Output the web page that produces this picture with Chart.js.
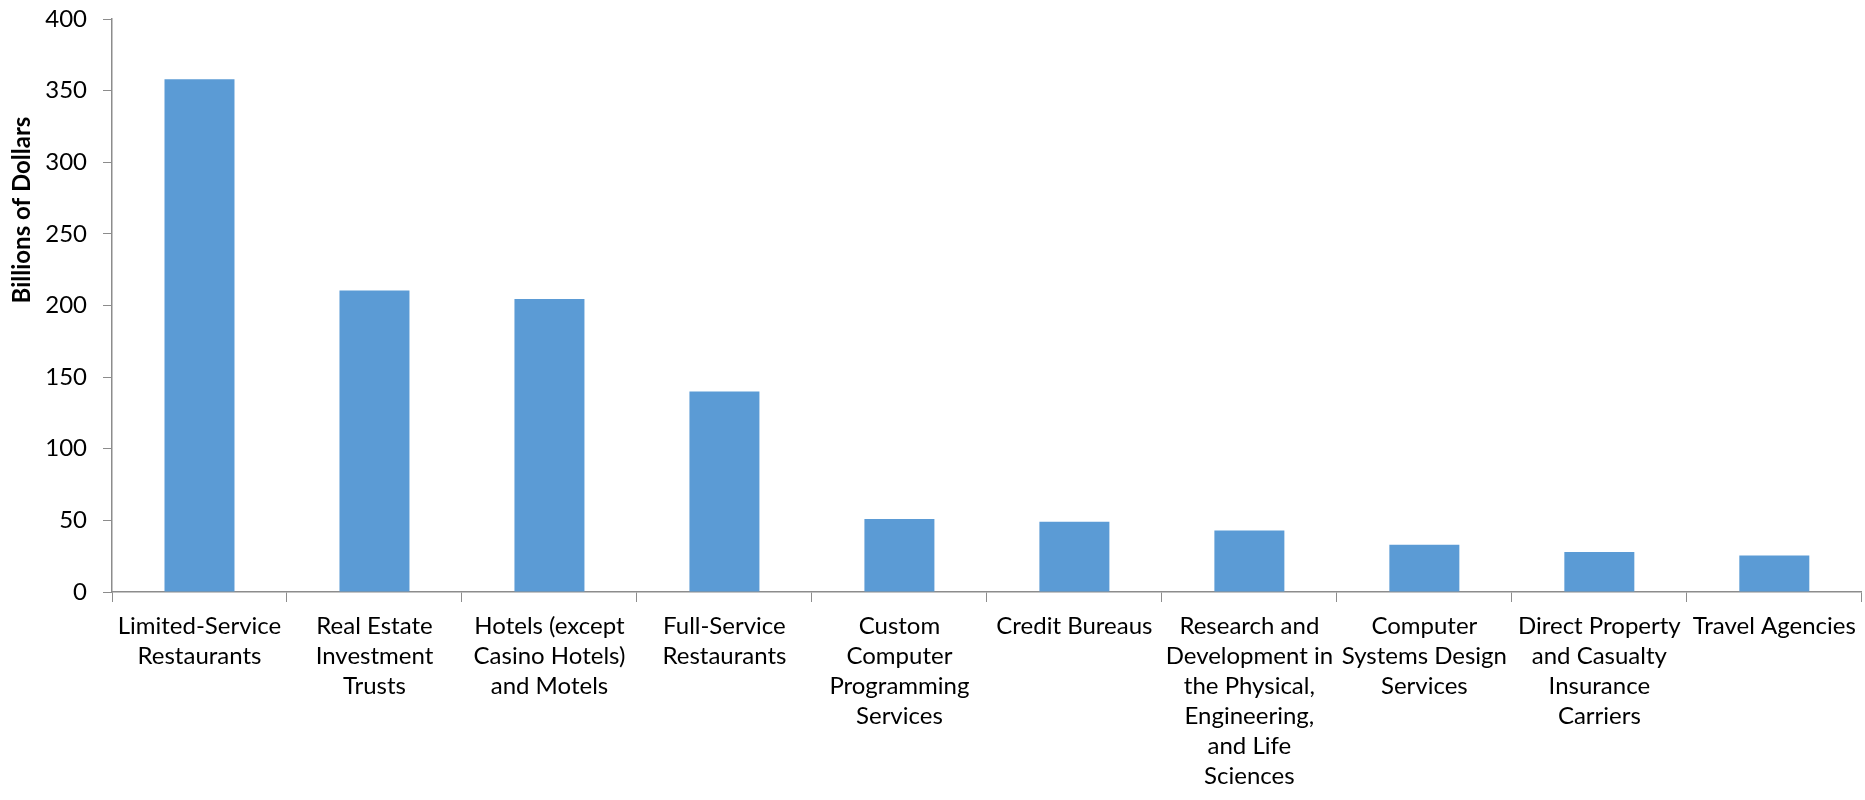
<!DOCTYPE html>
<html>
<head>
<meta charset="utf-8">
<script src="https://cdn.jsdelivr.net/npm/chart.js@4"></script>
<style>
  html, body { margin: 0; padding: 0; background: #fff; }
  #wrap { width: 1865px; height: 800px; }
</style>
</head>
<body>
<div id="wrap"><canvas id="industryChart"></canvas></div>
<script>
// Industry names, broken into lines the way they are printed under the axis
const industries = [
    ['Limited-Service', 'Restaurants'],
    ['Real Estate', 'Investment', 'Trusts'],
    ['Hotels (except', 'Casino Hotels)', 'and Motels'],
    ['Full-Service', 'Restaurants'],
    ['Custom', 'Computer', 'Programming', 'Services'],
    ['Credit Bureaus'],
    ['Research and', 'Development in', 'the Physical,', 'Engineering,', 'and Life', 'Sciences'],
    ['Computer', 'Systems Design', 'Services'],
    ['Direct Property', 'and Casualty', 'Insurance', 'Carriers'],
    ['Travel Agencies']
];

// Billions of dollars per industry
const billions = [358, 210.5, 204.5, 140, 51, 49, 43, 33, 28, 25.5];

const yMin = 0;
const yMax = 400;
const yStep = 50;

const axisGray = '#8c8c8c';
const fontFamily = 'Lato, "Open Sans", sans-serif';

// Rotated y-axis caption, placed a bit above the middle of the plot
const yCaption = {
    id: 'yCaption',
    afterDraw(chart) {
        const ctx = chart.ctx;
        ctx.save();
        ctx.translate(22, chart.chartArea.top + 191);
        ctx.rotate(-Math.PI / 2);
        ctx.font = 'bold 24px ' + fontFamily;
        ctx.fillStyle = '#000';
        ctx.textAlign = 'center';
        ctx.textBaseline = 'middle';
        ctx.fillText('Billions of Dollars', 0, 0);
        ctx.restore();
    }
};

const ctx = document.getElementById('industryChart').getContext('2d');
new Chart(ctx, {
    type: 'bar',
    data: {
        labels: industries,
        datasets: [{
            label: 'Billions of Dollars',
            data: billions,
            backgroundColor: '#5b9bd5',
            borderWidth: 0,
            categoryPercentage: 1,
            barPercentage: 0.4
        }]
    },
    options: {
        responsive: true,
        maintainAspectRatio: false,
        animation: false,
        layout: {
            padding: { top: 19, right: 2, bottom: 0, left: 0 }
        },
        plugins: {
            legend: { display: false },
            tooltip: { enabled: false }
        },
        scales: {
            x: {
                grid: {
                    display: true,
                    drawOnChartArea: false,
                    drawTicks: true,
                    offset: true,
                    tickLength: 10,
                    color: axisGray,
                    lineWidth: 1
                },
                border: { color: axisGray, width: 1.5 },
                ticks: {
                    color: '#000',
                    padding: 9,
                    maxRotation: 0,
                    autoSkip: false,
                    font: { family: fontFamily, size: 24, lineHeight: 1.25 }
                },
                afterFit(scale) { scale.height = 208; }
            },
            y: {
                min: yMin,
                max: yMax,
                grid: {
                    display: true,
                    drawOnChartArea: false,
                    drawTicks: true,
                    tickLength: 9,
                    color: axisGray,
                    lineWidth: 1
                },
                border: { color: axisGray, width: 1.5 },
                ticks: {
                    stepSize: yStep,
                    color: '#000',
                    padding: 16,
                    font: { family: fontFamily, size: 24 }
                },
                afterFit(scale) {
                    scale.width = 112;
                    // let the top label hang over the padding instead of pushing the plot down
                    scale.paddingTop = 0;
                    scale.paddingBottom = 0;
                }
            }
        }
    },
    plugins: [yCaption]
});
</script>
</body>
</html>
